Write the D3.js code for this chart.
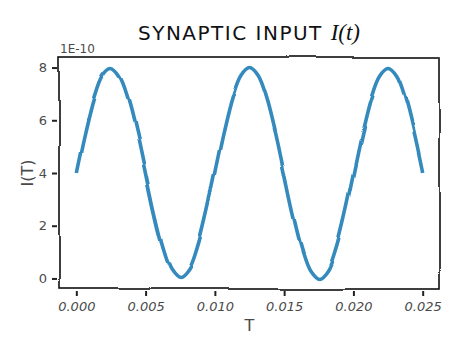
<!DOCTYPE html>
<html>
<head>
<meta charset="utf-8">
<script src="https://cdn.jsdelivr.net/npm/d3@7"></script>
<style>
  body { margin: 0; background: #fff; }
  .tick text { font-family: "DejaVu Sans", sans-serif; fill: #4a4a4a; }
</style>
</head>
<body>
<div id="svgcontainer"></div>
<script>
var width = 462;
var height = 350;

// time (s) and synaptic input I(t) in units of 1e-10 A
var times = [0.000000, 0.000625, 0.001250, 0.001875, 0.002500, 0.003125, 0.003750, 0.004375,
             0.005000, 0.005625, 0.006250, 0.006875, 0.007500, 0.008125, 0.008750, 0.009375,
             0.010000, 0.010625, 0.011250, 0.011875, 0.012500, 0.013125, 0.013750, 0.014375,
             0.015000, 0.015625, 0.016250, 0.016875, 0.017500, 0.018125, 0.018750, 0.019375,
             0.020000, 0.020625, 0.021250, 0.021875, 0.022500, 0.023125, 0.023750, 0.024375,
             0.025000];
var input = [4.00, 5.53, 6.83, 7.70, 8.00, 7.70, 6.83, 5.53,
             4.00, 2.47, 1.17, 0.30, 0.00, 0.30, 1.17, 2.47,
             4.00, 5.53, 6.83, 7.70, 8.00, 7.70, 6.83, 5.53,
             4.00, 2.47, 1.17, 0.30, 0.00, 0.30, 1.17, 2.47,
             4.00, 5.53, 6.83, 7.70, 8.00, 7.70, 6.83, 5.53,
             4.00];
var xTicks = [0.000, 0.005, 0.010, 0.015, 0.020, 0.025];
var yTicks = [0, 2, 4, 6, 8];

var plot_left = 59, plot_right = 440, plot_top = 57, plot_bottom = 289;

var svg = d3.select("#svgcontainer").append("svg").attr("width", width).attr("height", height);
var defs = svg.append("defs");

// hand-drawn wobble, xkcd style
var wobble = defs.append("filter").attr("id", "wobble")
    .attr("filterUnits", "userSpaceOnUse")
    .attr("x", 0).attr("y", 0).attr("width", width).attr("height", height);
wobble.append("feTurbulence").attr("type", "fractalNoise")
    .attr("baseFrequency", 0.012).attr("numOctaves", 1).attr("seed", 5).attr("result", "noise");
wobble.append("feGaussianBlur").attr("in", "noise").attr("stdDeviation", 2).attr("result", "soft");
wobble.append("feDisplacementMap").attr("in", "SourceGraphic").attr("in2", "soft")
    .attr("scale", 6).attr("xChannelSelector", "R").attr("yChannelSelector", "G");

var x = d3.scaleLinear().domain([-0.00125, 0.02625]).range([plot_left, plot_right]);
var y = d3.scaleLinear().domain([-0.4, 8.4]).range([plot_bottom, plot_top]);

// curve
var line = d3.line().x(function(d, i) { return x(times[i]); }).y(function(d) { return y(d); })
    .curve(d3.curveCatmullRom);

svg.append("path").datum(input)
    .attr("d", line)
    .attr("fill", "none").attr("stroke", "#348abd").attr("stroke-width", 3.6)
    .attr("stroke-linejoin", "round")
    .style("filter", "url(#wobble)");

// axes
var xAxis = d3.axisBottom(x).tickValues(xTicks).tickFormat(d3.format(".3f")).tickSize(5).tickPadding(6);
var yAxis = d3.axisLeft(y).tickValues(yTicks).tickFormat(d3.format("d")).tickSize(5).tickPadding(5);

var gx = svg.append("g").attr("transform", "translate(0," + (plot_bottom + 2) + ")").call(xAxis);
var gy = svg.append("g").attr("transform", "translate(" + (plot_left - 2) + ",0)").call(yAxis);
[gx, gy].forEach(function(g) {
    g.select(".domain").remove();
    g.selectAll(".tick line").attr("stroke", "#222").attr("stroke-width", 2);
    g.selectAll(".tick text").attr("font-size", 13);
});
gx.selectAll(".tick text").attr("font-style", "italic");

// frame
svg.append("rect").attr("x", plot_left).attr("y", plot_top)
    .attr("width", plot_right - plot_left).attr("height", plot_bottom - plot_top)
    .attr("fill", "none").attr("stroke", "#111").attr("stroke-width", 1.6)
    .style("filter", "url(#wobble)");

// offset label
svg.append("text").attr("x", plot_left + 1).attr("y", plot_top - 4)
    .attr("font-family", "DejaVu Sans, sans-serif").attr("font-size", 12).attr("fill", "#4a4a4a")
    .text("1E-10");

// axis labels
svg.append("text").attr("x", (plot_left + plot_right) / 2).attr("y", 331)
    .attr("text-anchor", "middle")
    .attr("font-family", "DejaVu Sans, sans-serif").attr("font-size", 16).attr("fill", "#4a4a4a")
    .text("T");

svg.append("text")
    .attr("transform", "translate(33," + ((plot_top + plot_bottom) / 2) + ") rotate(-90)")
    .attr("text-anchor", "middle")
    .attr("font-family", "DejaVu Sans, sans-serif").attr("font-size", 16).attr("fill", "#4a4a4a")
    .text("I(T)");

// title
var title = svg.append("text").attr("x", 249).attr("y", 40)
    .attr("text-anchor", "middle").attr("fill", "#111");
title.append("tspan")
    .attr("font-family", "DejaVu Sans, sans-serif").attr("font-size", 20)
    .attr("letter-spacing", 1.5)
    .text("SYNAPTIC INPUT ");
title.append("tspan")
    .attr("font-family", "Liberation Serif, serif").attr("font-style", "italic").attr("font-size", 23)
    .text("I(t)");
</script>
</body>
</html>
